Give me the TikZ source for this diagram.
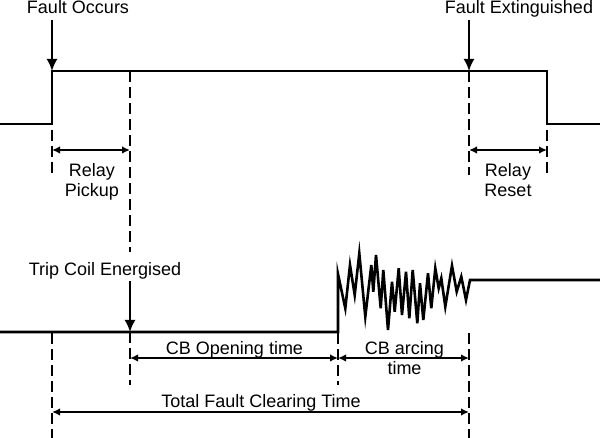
\documentclass[tikz,border=0pt]{standalone}
\usepackage{fontspec}
\setmainfont{Liberation Sans}
\usetikzlibrary{arrows.meta}
\begin{document}
\begin{tikzpicture}[x=1pt,y=-1pt,
  sig/.style={line width=2.6pt, line join=miter},
  guide/.style={line width=1.6pt, dash pattern=on 11pt off 5pt},
  dimline/.style={line width=1.6pt,{Latex[length=8pt,width=7.5pt]}-{Latex[length=8pt,width=7.5pt]}},
  event/.style={line width=1.8pt,-{Latex[length=12pt,width=11pt]}},
  lbl/.style={font=\fontsize{18}{20}\selectfont, inner sep=0pt, anchor=base}]
\useasboundingbox (0,0) rectangle (600,438);

% upper waveform
\coordinate (a0) at (0,124);
\coordinate (a1) at (52,124);
\coordinate (a2) at (52,71);
\coordinate (a3) at (547,71);
\coordinate (a4) at (547,124);
\coordinate (a5) at (600,124);
\draw[sig] (a0) -- (a1) -- (a2) -- (a3) -- (a4) -- (a5);

% lower waveform
\coordinate (b0) at (0,332);
\coordinate (b1) at (338,332);
\coordinate (b2) at (338,274);
\coordinate (b3) at (470,280);
\coordinate (b4) at (600,280);
\draw[sig] (b0) -- (b1) -- (b2)
  -- (345.3,308.3) -- (350,265) -- (354.7,295) -- (359.3,253.3)
  -- (365.3,316.7) -- (371.3,265) -- (373.3,291.7) -- (376,255)
  -- (380.7,308.3) -- (383.3,270) -- (388,330) -- (392,281.7)
  -- (394.7,311.7) -- (398.7,268.3) -- (402,315) -- (406,271.7)
  -- (409.3,318.3) -- (412.7,270) -- (417.3,323.3) -- (420,283.3)
  -- (423.3,320) -- (428,273.3) -- (431.3,308.3) -- (435.3,268.3)
  -- (438.7,288.3) -- (441.3,278.3) -- (445.3,306.7) -- (452,265.7)
  -- (456.7,291.7) -- (461.3,276.7) -- (466,300) -- (b3) -- (b4);

% guide coordinates
\coordinate (g1t) at (52,130);   \coordinate (g1b) at (52,175);
\coordinate (g1lt) at (52,333);  \coordinate (g1lb) at (52,438);
\coordinate (g2t) at (130,71);   \coordinate (g2b) at (130,252);
\coordinate (g2lt) at (130,332); \coordinate (g2lb) at (130,385);
\coordinate (g3t) at (469,71);   \coordinate (g3b) at (469,175);
\coordinate (g3lt) at (469,333); \coordinate (g3lb) at (469,438);
\coordinate (g4t) at (547,130);  \coordinate (g4b) at (547,175);
\coordinate (g5t) at (338,333);  \coordinate (g5b) at (338,385);
\draw[guide] (g1t) -- (g1b);
\draw[guide] (g1lt) -- (g1lb);
\draw[guide] (g2t) -- (g2b);
\draw[guide] (g2lt) -- (g2lb);
\draw[guide] (g3t) -- (g3b);
\draw[guide] (g3lt) -- (g3lb);
\draw[guide] (g4t) -- (g4b);
\draw[guide] (g5t) -- (g5b);

% event labels and arrows
\node[lbl] (fo) at (78,14) {Fault Occurs};
\node[lbl] (fe) at (519,14) {Fault Extinguished};
\node[lbl] (tc) at (105,276) {Trip Coil Energised};
\coordinate (foa) at (52,20);
\coordinate (fea) at (469,20);
\coordinate (tca) at (130,281);
\coordinate (tcb) at (130,332);
\draw[event] (foa) -- (a2);
\draw[event] (fea) -- (g3t);
\draw[event] (tca) -- (tcb);

% dimension arrows
\coordinate (d1a) at (52,150);  \coordinate (d1b) at (130,150);
\coordinate (d2a) at (469,150); \coordinate (d2b) at (547,150);
\coordinate (d3a) at (130,358); \coordinate (d3b) at (338,358);
\coordinate (d4a) at (338,358); \coordinate (d4b) at (469,358);
\coordinate (d5a) at (52,412);  \coordinate (d5b) at (469,412);
\draw[dimline] (d1a) -- (d1b);
\draw[dimline] (d2a) -- (d2b);
\draw[dimline] (d3a) -- (d3b);
\draw[dimline] (d4a) -- (d4b);
\draw[dimline] (d5a) -- (d5b);

\node[lbl] (rp1) at (92,177) {Relay};
\node[lbl] (rp2) at (92,197) {Pickup};
\node[lbl] (rr1) at (508,177) {Relay};
\node[lbl] (rr2) at (508,197) {Reset};
\node[lbl] (cbo) at (234.5,355) {CB Opening time};
\node[lbl] (cba1) at (404.5,355) {CB arcing};
\node[lbl] (cba2) at (404.5,375) {time};
\node[lbl] (tot) at (261,407) {Total Fault Clearing Time};
\end{tikzpicture}
\end{document}
